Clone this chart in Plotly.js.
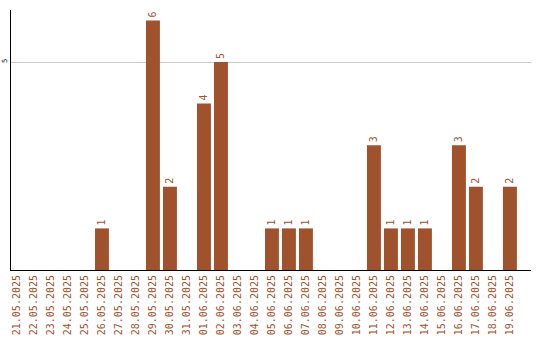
<!DOCTYPE html>
<html>
<head>
<meta charset="utf-8">
<script src="https://cdn.plot.ly/plotly-3.0.1.min.js"></script>
<style>html,body{margin:0;padding:0;background:#fff;}#chart{width:540px;height:340px;}</style>
</head>
<body>
<div id="chart"></div>
<script>
const dates = ["21.05.2025","22.05.2025","23.05.2025","24.05.2025","25.05.2025","26.05.2025","27.05.2025","28.05.2025","29.05.2025","30.05.2025","31.05.2025","01.06.2025","02.06.2025","03.06.2025","04.06.2025","05.06.2025","06.06.2025","07.06.2025","08.06.2025","09.06.2025","10.06.2025","11.06.2025","12.06.2025","13.06.2025","14.06.2025","15.06.2025","16.06.2025","17.06.2025","18.06.2025","19.06.2025"];
const counts = [0,0,0,0,0,1,0,0,6,2,0,4,5,0,0,1,1,1,0,0,0,3,1,1,1,0,3,2,0,2];
const yTicks = [5];

const barColor = "#a0522d";
const labels = counts.map(v => v > 0 ? String(v) : "");

const trace = {
  type: "bar",
  x: dates,
  y: counts,
  marker: {color: barColor},
  text: labels,
  textposition: "outside",
  textangle: -90,
  constraintext: "none",
  cliponaxis: false,
  textfont: {family: "DejaVu Sans Mono", size: 10, color: barColor},
  hoverinfo: "none"
};

const layout = {
  width: 540, height: 340,
  margin: {l: 11, r: 9, t: 10, b: 70, pad: 0},
  paper_bgcolor: "#fff", plot_bgcolor: "#fff",
  bargap: 0.18,
  showlegend: false,
  xaxis: {
    type: "category",
    range: [-0.35, 30.24],
    tickangle: -90,
    tickfont: {family: "DejaVu Sans Mono", size: 10, color: barColor},
    showline: true, linecolor: "#000", linewidth: 1,
    showgrid: false, ticks: "", zeroline: false
  },
  yaxis: {
    range: [0, 6.25],
    tickvals: yTicks,
    ticktext: yTicks.map(String),
    tickangle: -90,
    tickfont: {family: "DejaVu Sans Mono", size: 7, color: "#000"},
    showline: true, linecolor: "#000", linewidth: 1,
    showgrid: true, gridcolor: "#c8c8c8", gridwidth: 1,
    ticks: "", zeroline: false, ticklabelstandoff: 0
  }
};

Plotly.newPlot("chart", [trace], layout, {staticPlot: true, displayModeBar: false});
</script>
</body>
</html>
